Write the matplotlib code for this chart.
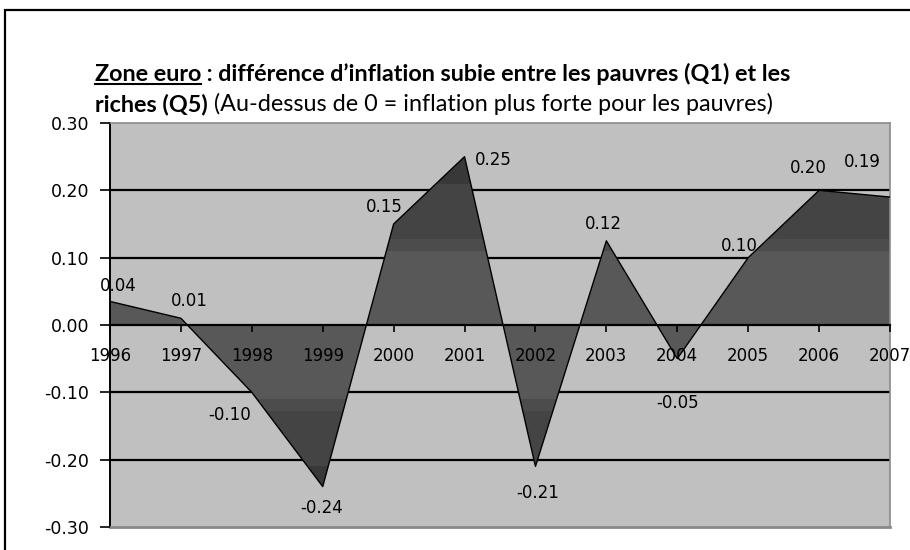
import matplotlib
matplotlib.use('Agg')
import matplotlib.pyplot as plt
import numpy as np
from matplotlib.patches import Rectangle, Polygon
from matplotlib.lines import Line2D
from matplotlib import font_manager

# ---- data ----
years = [1996, 1997, 1998, 1999, 2000, 2001, 2002, 2003, 2004, 2005, 2006, 2007]
values = [0.035, 0.01, -0.10, -0.24, 0.15, 0.25, -0.21, 0.125, -0.05, 0.10, 0.20, 0.19]
value_labels = ['0.04', '0.01', '-0.10', '-0.24', '0.15', '0.25', '-0.21', '0.12',
                '-0.05', '0.10', '0.20', '0.19']
yticks = [-0.30, -0.20, -0.10, 0.00, 0.10, 0.20, 0.30]
title_line1 = [("Zone euro", 'bold', True),
               (" : différence d’inflation subie entre les pauvres (Q1) et les", 'bold', False)]
title_line2 = [("riches (Q5)", 'bold', False),
               (" (Au-dessus de 0 = inflation plus forte pour les pauvres)", 'normal', False)]

# label offsets in pixels (style)
label_offsets = [(8, 15), (8, 17), (-22, -23), (-1, -21), (-9, 17), (29, -3),
                 (2, -27), (-3, 17), (0, -44), (-9, 12), (-11, 22), (-28, 35)]

W, H = 910, 550
fig = plt.figure(figsize=(W / 100, H / 100), dpi=100)
fig.patch.set_facecolor('white')

ax = fig.add_axes([110 / W, 1 - 527 / H, 780 / W, (527 - 123) / H])
ax.set_facecolor('#c0c0c0')
x = np.arange(len(years))
ax.set_xlim(0, len(years) - 1)
ax.set_ylim(-0.3, 0.3)

# gridlines (behind the area)
for g in [-0.2, -0.1, 0.1, 0.2]:
    ax.axhline(g, color='black', lw=1.6, zorder=1)

# banded fill
verts = [(x[0], 0)] + list(zip(x, values)) + [(x[-1], 0)]
poly = Polygon(verts, closed=True, facecolor='none', edgecolor='none',
               transform=ax.transData)
ax.add_patch(poly)
ys = np.linspace(0.3, -0.3, 1200)
img = np.zeros((len(ys), 1, 3))
def band_color(v):
    a = abs(v)
    if a < 0.11:
        c = 0x58
    elif a < 0.128:
        c = 0x4c
    elif a < 0.21:
        c = 0x44
    else:
        c = 0x38
    return c / 255.0
for i, v in enumerate(ys):
    img[i, 0, :] = band_color(v)
im = ax.imshow(img, extent=[x[0], x[-1], -0.3, 0.3], aspect='auto',
               interpolation='nearest', zorder=2)
im.set_clip_path(poly)
ax.plot(x, values, color='black', lw=1.0, zorder=3)

# zero axis
ax.spines['bottom'].set_position(('data', 0))
ax.spines['bottom'].set_color('black')
ax.spines['bottom'].set_linewidth(1.6)
ax.spines['bottom'].set_zorder(4)
ax.spines['left'].set_color('black')
ax.spines['left'].set_linewidth(1.4)
ax.spines['top'].set_color('#8a8a8a')
ax.spines['right'].set_color('#8a8a8a')
ax.spines['top'].set_linewidth(1.2)
ax.spines['right'].set_linewidth(1.2)
ax.axhline(-0.3, color='#8a8a8a', lw=2.0, zorder=5, clip_on=False)

ax.set_xticks(x)
ax.set_xticklabels([str(y) for y in years])
ax.set_yticks(yticks)
ax.set_yticklabels(['%.2f' % t for t in yticks])
ax.tick_params(axis='x', direction='out', length=5, width=1.2, pad=11,
               labelsize=12, colors='black')
ax.tick_params(axis='y', direction='out', length=7, width=1.2, pad=8,
               labelsize=12.5, colors='black')
ax.xaxis.set_zorder(6)
ax.yaxis.set_zorder(6)
for lbl in ax.get_xticklabels() + ax.get_yticklabels():
    lbl.set_fontfamily('DejaVu Sans')

# data labels
for xi, v, lab, off in zip(x, values, value_labels, label_offsets):
    ax.annotate(lab, (xi, v), xytext=off, textcoords='offset pixels',
                ha='center', va='center', fontsize=12, family='DejaVu Sans',
                zorder=7, annotation_clip=False)

# outer frame
fig.patches.append(Rectangle((5 / W, -0.1), 1.2, 1.1 - 10 / H, transform=fig.transFigure,
                             fill=False, ec='black', lw=1.6))

# title font choice
avail = {f.name for f in font_manager.fontManager.ttflist}
tfam = None
for cand in ['Lato', 'Roboto Condensed', 'Liberation Sans Narrow', 'Liberation Sans']:
    if cand in avail:
        tfam = cand
        break
if tfam is None:
    tfam = 'DejaVu Sans'
tfams = [tfam, 'DejaVu Sans']

fig.canvas.draw()
renderer = fig.canvas.get_renderer()

def measure(parts, size):
    tot = 0
    for txt, weight, under in parts:
        t = fig.text(0, 0, txt, fontsize=size, fontweight=weight, family=tfams)
        tot += t.get_window_extent(renderer).width
        t.remove()
    return tot

size = 15.0 * 700.0 / measure(title_line1, 15.0)

def draw_line(parts, x0, ybase, size):
    xc = x0
    for txt, weight, under in parts:
        t = fig.text(xc / W, 1 - ybase / H, txt, fontsize=size, fontweight=weight,
                     family=tfams, ha='left', va='baseline')
        bb = t.get_window_extent(renderer)
        if under:
            fig.add_artist(Line2D([bb.x0 / W, bb.x1 / W],
                                  [1 - (ybase + 3) / H, 1 - (ybase + 3) / H],
                                  color='black', lw=1.5, transform=fig.transFigure))
        xc = bb.x1
draw_line(title_line1, 95, 81, size)
draw_line(title_line2, 95, 111, size)

fig.savefig('out.png', dpi=100)
